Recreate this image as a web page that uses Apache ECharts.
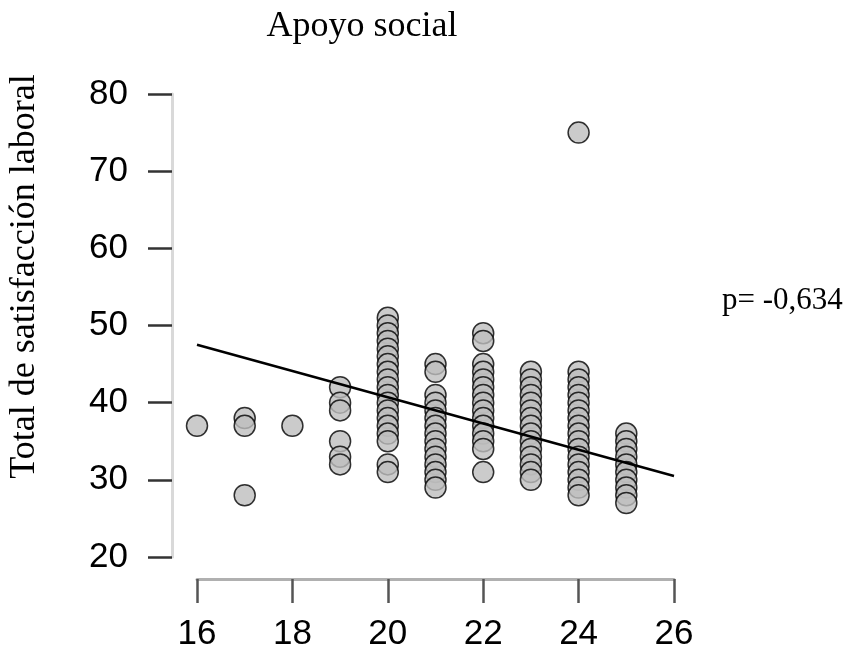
<!DOCTYPE html>
<html>
<head>
<meta charset="utf-8">
<script src="https://cdn.jsdelivr.net/npm/echarts@6/dist/echarts.min.js"></script>
<style>
  html, body { margin: 0; padding: 0; background: #fff; }
  #chart { width: 851px; height: 652px; }
</style>
</head>
<body>
<div id="chart"></div>
<script>
// Apoyo social (x) vs Total de satisfacción laboral (y)
const apoyoNiveles = [16, 17, 18, 19, 20, 21, 22, 23, 24, 25]
const satisfaccionPorNivel = [
  [37],
  [38, 37, 28],
  [37],
  [42, 40, 39, 35, 33, 32],
  [51, 50, 49, 48, 47, 46, 45, 44, 43, 42, 41, 40, 39, 38, 37, 36, 35, 32, 31],
  [45, 44, 41, 40, 39, 38, 37, 36, 35, 34, 33, 32, 31, 30, 29],
  [49, 48, 45, 44, 43, 42, 41, 40, 39, 38, 37, 36, 35, 34, 31],
  [44, 43, 42, 41, 40, 39, 38, 37, 36, 35, 34, 33, 32, 31, 30],
  [75, 44, 43, 42, 41, 40, 39, 38, 37, 36, 35, 34, 33, 32, 31, 30, 29, 28],
  [36, 35, 34, 33, 32, 31, 30, 29, 28, 27]
]
// recta de regresión (extremos)
const rectaX = [16, 26]
const rectaY = [47.5, 30.5]
const xTicks = [16, 26, 2] // min, max, intervalo
const yTicks = [20, 80, 10]
const coefTexto = 'p= -0,634'

const puntos = []
apoyoNiveles.forEach(function (x, i) {
  satisfaccionPorNivel[i].forEach(function (y) { puntos.push([x, y]) })
})

const chart = echarts.init(document.getElementById('chart'))
chart.setOption({
  animation: false,
  backgroundColor: '#fff',
  grid: { left: 197, right: 177, top: 94, bottom: 95 },
  xAxis: {
    type: 'value',
    min: xTicks[0],
    max: xTicks[1],
    interval: xTicks[2],
    offset: 22,
    splitLine: { show: false },
    axisLine: { show: true, lineStyle: { color: '#b0b0b0', width: 3 } },
    axisTick: { show: true, length: 24, lineStyle: { color: '#555', width: 2.5 } },
    axisLabel: { margin: 38, color: '#000', fontSize: 35, fontFamily: 'Liberation Sans' }
  },
  yAxis: {
    type: 'value',
    min: yTicks[0],
    max: yTicks[1],
    interval: yTicks[2],
    offset: 25,
    splitLine: { show: false },
    axisLine: { show: true, lineStyle: { color: '#d9d9d9', width: 3 } },
    axisTick: { show: true, length: 24, lineStyle: { color: '#333', width: 2.5 } },
    axisLabel: { margin: 44, color: '#000', fontSize: 35, fontFamily: 'Liberation Sans' }
  },
  series: [
    {
      type: 'scatter',
      data: puntos,
      symbolSize: 21,
      itemStyle: { color: '#bebebe', borderColor: '#000', borderWidth: 1.5 },
      z: 2
    },
    {
      type: 'line',
      data: rectaX.map(function (x, i) { return [x, rectaY[i]] }),
      symbol: 'none',
      lineStyle: { color: '#000', width: 2.5 },
      z: 3
    }
  ],
  graphic: [
    {
      type: 'text', x: 362, y: 27,
      style: { text: 'Apoyo social', fill: '#000', font: '36px "Liberation Serif"', align: 'center', verticalAlign: 'middle' }
    },
    {
      type: 'text', x: 24.5, y: 276.5, rotation: Math.PI / 2,
      style: { text: 'Total de satisfacción laboral', fill: '#000', font: '36px "Liberation Serif"', align: 'center', verticalAlign: 'middle' }
    },
    {
      type: 'text', x: 722, y: 301,
      style: { text: coefTexto, fill: '#000', font: '31px "Liberation Serif"', align: 'left', verticalAlign: 'middle' }
    }
  ]
})
</script>
</body>
</html>
